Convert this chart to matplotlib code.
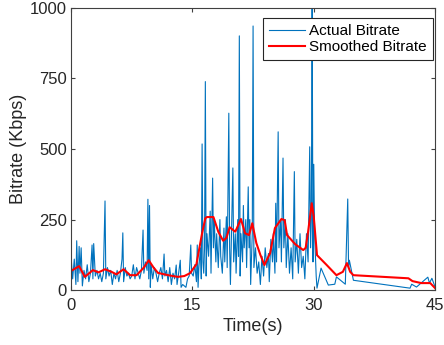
import matplotlib
matplotlib.use("agg")
import matplotlib.pyplot as plt

# --- data ---
actual_t = [0.0, 0.2, 0.4, 0.6, 0.7, 0.85, 1.0, 1.1, 1.25, 1.4, 1.6, 1.8, 2.0, 2.2, 2.4,
            2.6, 2.7, 2.8, 3.0, 3.2, 3.4, 3.6, 3.8, 4.0, 4.2, 4.3, 4.5, 4.7, 4.9, 5.1,
            5.3, 5.5, 5.7, 5.9, 6.1, 6.3, 6.4, 6.5, 6.7, 6.9, 7.1, 7.3, 7.5, 7.7, 7.9,
            8.1, 8.3, 8.5, 8.7, 8.9, 9.0, 9.2, 9.4, 9.5, 9.6, 9.7, 9.8, 9.9, 10.1, 10.3,
            10.5, 10.7, 10.9, 11.1, 11.3, 11.5, 11.6, 11.8, 12.0, 12.2, 12.4, 12.6, 12.8, 13.0, 13.1,
            13.3, 13.5, 13.6, 13.8, 14.0, 14.2, 14.4, 14.6, 14.8, 14.9, 15.1, 15.3, 15.5, 15.6, 15.7,
            15.8, 16.0, 16.1, 16.2, 16.3, 16.4, 16.5, 16.6, 16.7, 16.8, 17.0, 17.2, 17.3, 17.5, 17.6,
            17.7, 17.9, 18.0, 18.2, 18.4, 18.5, 18.7, 18.9, 19.0, 19.2, 19.3, 19.5, 19.6, 19.7, 19.9,
            20.0, 20.1, 20.3, 20.4, 20.6, 20.7, 20.8, 20.9, 21.0, 21.2, 21.3, 21.4, 21.6, 21.7, 21.9,
            22.0, 22.1, 22.2, 22.4, 22.5, 22.6, 22.8, 23.0, 23.2, 23.4, 23.6, 23.8, 24.0, 24.2, 24.4,
            24.5, 24.7, 24.9, 25.0, 25.2, 25.3, 25.4, 25.6, 25.7, 25.9, 26.0, 26.2, 26.3, 26.5, 26.6,
            26.8, 27.0, 27.2, 27.4, 27.6, 27.7, 27.9, 28.1, 28.3, 28.5, 28.7, 28.9, 29.1, 29.3, 29.5,
            29.6, 29.7, 29.8, 29.9, 30.0, 30.1, 30.3, 30.4, 30.9, 31.8, 32.6, 32.8, 33.9, 34.2, 34.3,
            34.4, 34.9, 41.9, 42.1, 42.7, 44.1, 44.3, 44.6, 45.0]
actual_kbps = [120, 40, 110, 20, 175, 30, 155, 60, 150, 15, 70, 40, 90, 30, 60,
               160, 40, 165, 50, 70, 40, 60, 30, 60, 316, 40, 80, 50, 70, 20,
               60, 40, 70, 30, 60, 110, 203, 30, 80, 50, 60, 40, 50, 90, 40,
               80, 60, 40, 70, 213, 60, 100, 70, 322, 40, 300, 10, 90, 40, 80,
               60, 30, 60, 80, 40, 128, 50, 70, 30, 80, 20, 60, 40, 89, 20,
               60, 106, 10, 20, 15, 10, 40, 50, 160, 60, 50, 90, 30, 160, 10,
               80, 150, 40, 518, 100, 60, 150, 739, 50, 200, 120, 280, 60, 397, 150,
               250, 100, 200, 80, 250, 120, 60, 220, 100, 260, 80, 627, 150, 20, 300,
               433, 100, 200, 60, 250, 120, 901, 50, 200, 100, 300, 150, 250, 80, 366,
               150, 250, 20, 200, 936, 80, 150, 60, 100, 20, 120, 50, 150, 80, 130,
               30, 180, 100, 200, 60, 308, 100, 561, 150, 250, 100, 468, 150, 250, 80,
               200, 60, 150, 40, 420, 100, 180, 60, 200, 80, 120, 40, 200, 100, 508,
               150, 250, 1050, 100, 446, 200, 50, 7, 78, 18, 21, 47, 21, 323, 80,
               106, 35, 7, 21, 11, 46, 25, 42, 11]

smooth_t = [0.0, 1.0, 1.7, 2.7, 3.4, 4.2, 5.0, 5.6, 6.5, 7.3, 8.1, 9.0, 9.6, 10.2, 10.75,
            12.0, 13.2, 14.0, 14.7, 15.5, 16.2, 16.6, 16.8, 17.6, 18.2, 18.8, 19.2, 19.6, 20.3, 21.0,
            21.5, 22.0, 22.4, 22.9, 23.4, 23.9, 24.6, 25.2, 26.0, 26.4, 26.7, 27.7, 28.7, 29.0, 29.3,
            29.75, 30.0, 30.4, 31.6, 32.8, 33.6, 34.1, 34.5, 34.9, 41.7, 42.2, 43.3, 44.4, 45.0]
smooth_kbps = [68, 85, 47, 71, 63, 74, 65, 56, 74, 53, 53, 80, 106, 80, 61,
               53, 47, 50, 60, 92, 202, 255, 259, 259, 207, 175, 185, 223, 207, 252,
               202, 195, 237, 167, 125, 89, 131, 220, 252, 248, 195, 163, 142, 150, 207,
               308, 260, 124, 89, 53, 65, 96, 65, 53, 42, 32, 25, 25, 7]

xticks = [0, 15, 30, 45]
yticks = [0, 250, 500, 750, 1000]

plt.rcParams["font.family"] = ["Liberation Sans", "DejaVu Sans"]

fig = plt.figure(figsize=(4.44, 3.45), dpi=100)
ax = fig.add_axes([0.16, 0.159, 0.82, 0.818])

ax.plot(actual_t, actual_kbps, color="#0072BD", linewidth=0.8, label="Actual Bitrate")
ax.plot(smooth_t, smooth_kbps, color="#FF0000", linewidth=1.5, label="Smoothed Bitrate")

ax.set_xlim(0, 45)
ax.set_ylim(0, 1000)
ax.set_xticks(xticks)
ax.set_yticks(yticks)
ax.tick_params(direction="in", top=True, right=True, labelsize=12, length=3,
               color="#404040", labelcolor="#262626", pad=3)
ax.tick_params(axis="x", pad=6)
for s in ax.spines.values():
    s.set_color("#404040")
    s.set_linewidth(0.8)

ax.set_xlabel("Time(s)", fontsize=13, color="#262626", labelpad=3)
ax.set_ylabel("Bitrate (Kbps)", fontsize=13, color="#262626", labelpad=2)

leg = ax.legend(loc="upper right", bbox_to_anchor=(0.994, 0.965), borderaxespad=0,
                fontsize=11, fancybox=False, framealpha=1,
                edgecolor="#262626", borderpad=0.4, handlelength=2.3,
                handletextpad=0.3, labelspacing=0.15)
leg.get_frame().set_linewidth(0.8)

fig.savefig("out.png", dpi=100)
